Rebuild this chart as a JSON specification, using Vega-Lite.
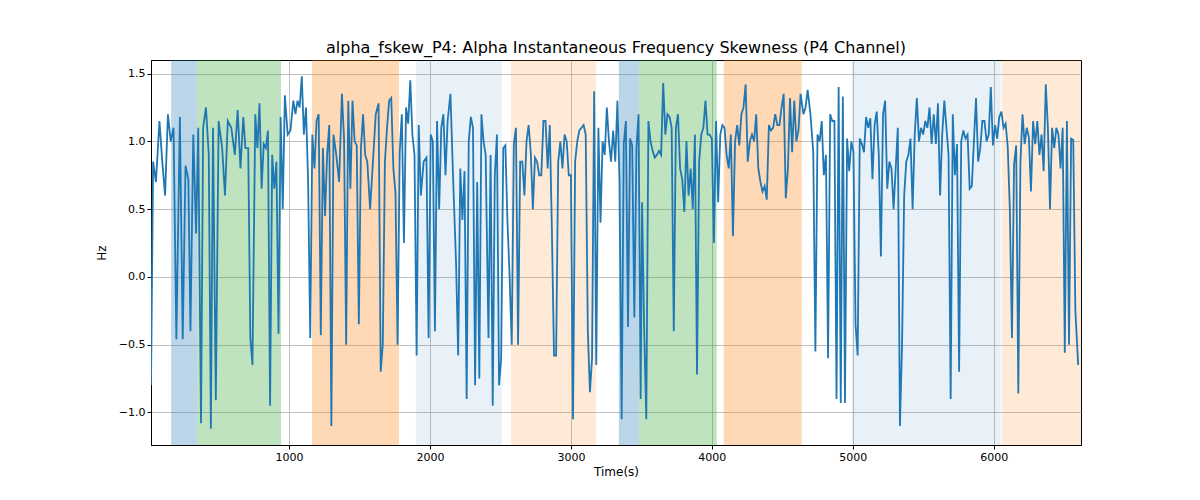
{
  "$schema": "https://vega.github.io/schema/vega-lite/v6.json",
  "width": 930,
  "height": 385,
  "padding": {"left": 95, "top": 40, "right": 10, "bottom": 10},
  "title": {"text": "alpha_fskew_P4: Alpha Instantaneous Frequency Skewness (P4 Channel)", "fontSize": 16, "font": "DejaVu Sans", "fontWeight": "normal"},
  "datasets": {
    "bands": [
      {"s": 163, "e": 348, "c": "b", "o": 0.3},
      {"s": 348, "e": 943, "c": "g", "o": 0.3},
      {"s": 1163, "e": 1780, "c": "o", "o": 0.3},
      {"s": 1900, "e": 2510, "c": "b", "o": 0.1},
      {"s": 2574, "e": 3177, "c": "o", "o": 0.16},
      {"s": 3340, "e": 3482, "c": "b", "o": 0.3},
      {"s": 3482, "e": 4035, "c": "g", "o": 0.3},
      {"s": 4085, "e": 4638, "c": "o", "o": 0.3},
      {"s": 4993, "e": 6050, "c": "b", "o": 0.1},
      {"s": 6057, "e": 6620, "c": "o", "o": 0.16}
    ],
    "series": [
      {"t": 20, "v": -0.8}, {"t": 35, "v": 0.85}, {"t": 55, "v": 0.7}, {"t": 80, "v": 1.15}, {"t": 100, "v": 0.85}, {"t": 120, "v": 0.6},
      {"t": 140, "v": 1.2}, {"t": 160, "v": 1.0}, {"t": 180, "v": 1.1}, {"t": 200, "v": -0.46}, {"t": 225, "v": 1.18}, {"t": 245, "v": -0.46},
      {"t": 265, "v": 0.82}, {"t": 285, "v": 0.72}, {"t": 300, "v": -0.4}, {"t": 320, "v": 1.05}, {"t": 340, "v": 0.32}, {"t": 355, "v": 1.1},
      {"t": 375, "v": -1.08}, {"t": 390, "v": 1.1}, {"t": 410, "v": 1.25}, {"t": 430, "v": 0.9}, {"t": 445, "v": -1.12}, {"t": 460, "v": 1.1},
      {"t": 480, "v": -0.91}, {"t": 500, "v": 1.15}, {"t": 525, "v": 0.95}, {"t": 545, "v": 0.6}, {"t": 565, "v": 1.15}, {"t": 590, "v": 1.1},
      {"t": 615, "v": 0.9}, {"t": 635, "v": 1.23}, {"t": 655, "v": 0.8}, {"t": 675, "v": 1.18}, {"t": 690, "v": 0.95}, {"t": 710, "v": 0.95},
      {"t": 725, "v": -0.45}, {"t": 740, "v": -0.65}, {"t": 760, "v": 1.2}, {"t": 775, "v": 0.95}, {"t": 790, "v": 1.28}, {"t": 805, "v": 0.65},
      {"t": 820, "v": 0.98}, {"t": 835, "v": 0.95}, {"t": 850, "v": 1.08}, {"t": 865, "v": -0.95}, {"t": 880, "v": 0.9}, {"t": 895, "v": 0.65},
      {"t": 910, "v": 0.85}, {"t": 925, "v": -0.42}, {"t": 940, "v": 1.18}, {"t": 955, "v": 0.5}, {"t": 970, "v": 1.34}, {"t": 990, "v": 1.05},
      {"t": 1010, "v": 1.08}, {"t": 1030, "v": 1.3}, {"t": 1045, "v": 1.2}, {"t": 1060, "v": 1.3}, {"t": 1075, "v": 1.25}, {"t": 1090, "v": 1.48},
      {"t": 1105, "v": 1.05}, {"t": 1120, "v": 1.25}, {"t": 1135, "v": 0.7}, {"t": 1150, "v": -0.45}, {"t": 1165, "v": 1.05}, {"t": 1180, "v": 0.8},
      {"t": 1195, "v": 1.15}, {"t": 1210, "v": 1.2}, {"t": 1225, "v": -0.43}, {"t": 1240, "v": 0.95}, {"t": 1255, "v": 0.45}, {"t": 1270, "v": 0.9},
      {"t": 1285, "v": 1.12}, {"t": 1300, "v": -1.1}, {"t": 1315, "v": 1.05}, {"t": 1335, "v": 0.9}, {"t": 1355, "v": 0.7}, {"t": 1375, "v": 1.35},
      {"t": 1390, "v": 1.02}, {"t": 1405, "v": -0.5}, {"t": 1420, "v": 1.3}, {"t": 1435, "v": 0.65}, {"t": 1450, "v": 1.3}, {"t": 1465, "v": 1.0},
      {"t": 1480, "v": 0.97}, {"t": 1495, "v": -0.35}, {"t": 1510, "v": 0.95}, {"t": 1525, "v": 1.2}, {"t": 1540, "v": 0.9}, {"t": 1555, "v": 0.85},
      {"t": 1575, "v": 0.5}, {"t": 1595, "v": 0.85}, {"t": 1615, "v": 1.2}, {"t": 1635, "v": 1.28}, {"t": 1650, "v": -0.7}, {"t": 1665, "v": -0.5},
      {"t": 1680, "v": 0.85}, {"t": 1695, "v": 1.1}, {"t": 1710, "v": 1.3}, {"t": 1725, "v": 1.32}, {"t": 1740, "v": 0.8}, {"t": 1755, "v": 0.62},
      {"t": 1770, "v": -0.5}, {"t": 1785, "v": 0.92}, {"t": 1800, "v": 1.2}, {"t": 1815, "v": 0.25}, {"t": 1830, "v": 1.25}, {"t": 1845, "v": 1.13},
      {"t": 1860, "v": 1.45}, {"t": 1875, "v": 1.05}, {"t": 1890, "v": 0.9}, {"t": 1905, "v": -0.58}, {"t": 1920, "v": 1.12}, {"t": 1935, "v": 0.6},
      {"t": 1955, "v": 0.85}, {"t": 1975, "v": 0.88}, {"t": 1990, "v": -0.45}, {"t": 2005, "v": 1.05}, {"t": 2020, "v": 1.0}, {"t": 2035, "v": -0.4},
      {"t": 2050, "v": 1.15}, {"t": 2065, "v": 0.5}, {"t": 2080, "v": 1.1}, {"t": 2095, "v": 1.2}, {"t": 2110, "v": 0.75}, {"t": 2125, "v": 1.15},
      {"t": 2145, "v": 1.35}, {"t": 2165, "v": 0.7}, {"t": 2185, "v": 0.1}, {"t": 2200, "v": -0.58}, {"t": 2215, "v": 0.8}, {"t": 2230, "v": 0.42},
      {"t": 2245, "v": 0.78}, {"t": 2260, "v": -0.9}, {"t": 2275, "v": 1.0}, {"t": 2290, "v": 1.18}, {"t": 2305, "v": 1.1}, {"t": 2320, "v": -0.8},
      {"t": 2335, "v": 0.7}, {"t": 2350, "v": -0.75}, {"t": 2365, "v": 1.2}, {"t": 2380, "v": 1.0}, {"t": 2395, "v": 0.9}, {"t": 2415, "v": -0.45},
      {"t": 2430, "v": 0.9}, {"t": 2445, "v": -0.95}, {"t": 2460, "v": 0.75}, {"t": 2475, "v": 1.05}, {"t": 2490, "v": -0.8}, {"t": 2505, "v": -0.6},
      {"t": 2520, "v": 0.95}, {"t": 2535, "v": 0.97}, {"t": 2550, "v": 0.4}, {"t": 2565, "v": 0.0}, {"t": 2580, "v": -0.5}, {"t": 2595, "v": 0.98},
      {"t": 2610, "v": 1.1}, {"t": 2625, "v": -0.5}, {"t": 2640, "v": 0.85}, {"t": 2655, "v": 0.85}, {"t": 2670, "v": 0.6}, {"t": 2685, "v": 1.0},
      {"t": 2700, "v": 1.12}, {"t": 2715, "v": 0.92}, {"t": 2730, "v": 0.5}, {"t": 2745, "v": 0.88}, {"t": 2760, "v": 0.85}, {"t": 2775, "v": 0.75},
      {"t": 2790, "v": 0.75}, {"t": 2805, "v": 1.15}, {"t": 2820, "v": 1.15}, {"t": 2835, "v": 0.8}, {"t": 2850, "v": 1.12}, {"t": 2865, "v": 0.35},
      {"t": 2880, "v": -0.58}, {"t": 2895, "v": -0.58}, {"t": 2910, "v": 0.85}, {"t": 2925, "v": 1.0}, {"t": 2940, "v": 0.8}, {"t": 2955, "v": 1.05},
      {"t": 2970, "v": 1.0}, {"t": 2985, "v": 0.75}, {"t": 3000, "v": 0.75}, {"t": 3015, "v": -1.05}, {"t": 3030, "v": 0.85}, {"t": 3045, "v": 1.0},
      {"t": 3060, "v": 1.08}, {"t": 3075, "v": 1.1}, {"t": 3090, "v": 1.12}, {"t": 3105, "v": 1.05}, {"t": 3120, "v": -0.4}, {"t": 3135, "v": -0.85},
      {"t": 3150, "v": -0.6}, {"t": 3165, "v": 1.37}, {"t": 3180, "v": -0.65}, {"t": 3195, "v": 1.1}, {"t": 3210, "v": 0.4}, {"t": 3225, "v": 1.0},
      {"t": 3240, "v": 0.9}, {"t": 3255, "v": 1.25}, {"t": 3270, "v": 1.0}, {"t": 3285, "v": 0.85}, {"t": 3300, "v": 1.08}, {"t": 3315, "v": 0.85},
      {"t": 3330, "v": 1.3}, {"t": 3345, "v": 0.7}, {"t": 3360, "v": -1.05}, {"t": 3375, "v": 0.98}, {"t": 3390, "v": 1.15}, {"t": 3405, "v": -0.37},
      {"t": 3420, "v": 1.02}, {"t": 3435, "v": 0.97}, {"t": 3450, "v": -0.3}, {"t": 3465, "v": 0.95}, {"t": 3480, "v": 1.2}, {"t": 3495, "v": -0.9},
      {"t": 3505, "v": 0.55}, {"t": 3520, "v": -0.4}, {"t": 3535, "v": -1.05}, {"t": 3550, "v": 1.15}, {"t": 3565, "v": 1.0}, {"t": 3580, "v": 0.93},
      {"t": 3595, "v": 0.88}, {"t": 3610, "v": 0.9}, {"t": 3625, "v": 0.93}, {"t": 3640, "v": 0.9}, {"t": 3655, "v": 1.43}, {"t": 3670, "v": 1.05},
      {"t": 3685, "v": 1.2}, {"t": 3700, "v": 1.18}, {"t": 3715, "v": 1.1}, {"t": 3730, "v": -0.4}, {"t": 3745, "v": 1.1}, {"t": 3760, "v": 1.2},
      {"t": 3775, "v": 0.8}, {"t": 3790, "v": 0.72}, {"t": 3805, "v": 0.48}, {"t": 3820, "v": 1.0}, {"t": 3835, "v": 0.6}, {"t": 3850, "v": 0.8},
      {"t": 3865, "v": 0.5}, {"t": 3880, "v": 1.05}, {"t": 3895, "v": -0.72}, {"t": 3910, "v": 0.85}, {"t": 3925, "v": 1.05}, {"t": 3940, "v": 1.1},
      {"t": 3955, "v": 1.3}, {"t": 3970, "v": 1.05}, {"t": 3985, "v": 1.05}, {"t": 4000, "v": 1.02}, {"t": 4015, "v": 0.25}, {"t": 4030, "v": 1.15},
      {"t": 4045, "v": 0.55}, {"t": 4060, "v": 1.05}, {"t": 4075, "v": 1.12}, {"t": 4090, "v": 1.1}, {"t": 4105, "v": 0.9}, {"t": 4120, "v": 0.8},
      {"t": 4135, "v": 1.05}, {"t": 4150, "v": 0.3}, {"t": 4165, "v": 1.0}, {"t": 4180, "v": 1.12}, {"t": 4195, "v": 0.97}, {"t": 4210, "v": 1.2},
      {"t": 4225, "v": 1.25}, {"t": 4240, "v": 1.42}, {"t": 4255, "v": 0.85}, {"t": 4270, "v": 1.0}, {"t": 4285, "v": 1.05}, {"t": 4300, "v": 1.0},
      {"t": 4315, "v": 1.2}, {"t": 4330, "v": 0.8}, {"t": 4345, "v": 0.7}, {"t": 4360, "v": 0.63}, {"t": 4375, "v": 0.67}, {"t": 4390, "v": 0.57},
      {"t": 4405, "v": 1.12}, {"t": 4420, "v": 1.08}, {"t": 4435, "v": 1.1}, {"t": 4450, "v": 1.2}, {"t": 4465, "v": 1.12}, {"t": 4480, "v": 1.12},
      {"t": 4495, "v": 1.25}, {"t": 4510, "v": 1.35}, {"t": 4525, "v": 0.58}, {"t": 4540, "v": 0.8}, {"t": 4555, "v": 1.32}, {"t": 4570, "v": 0.92},
      {"t": 4585, "v": 1.3}, {"t": 4600, "v": 1.0}, {"t": 4615, "v": 1.08}, {"t": 4630, "v": 1.35}, {"t": 4650, "v": 1.2}, {"t": 4665, "v": 1.25},
      {"t": 4680, "v": 1.38}, {"t": 4700, "v": 1.2}, {"t": 4720, "v": 0.92}, {"t": 4735, "v": -0.55}, {"t": 4750, "v": 1.05}, {"t": 4765, "v": 1.0},
      {"t": 4780, "v": 1.15}, {"t": 4795, "v": 0.75}, {"t": 4810, "v": 0.9}, {"t": 4825, "v": -0.6}, {"t": 4840, "v": 1.2}, {"t": 4855, "v": 1.15},
      {"t": 4870, "v": 1.15}, {"t": 4885, "v": -0.9}, {"t": 4900, "v": 1.4}, {"t": 4915, "v": -0.93}, {"t": 4930, "v": 1.33}, {"t": 4945, "v": -0.93},
      {"t": 4960, "v": 1.02}, {"t": 4975, "v": 0.78}, {"t": 4990, "v": 1.0}, {"t": 5005, "v": 0.92}, {"t": 5020, "v": -0.35}, {"t": 5035, "v": -0.58},
      {"t": 5050, "v": 1.02}, {"t": 5065, "v": 0.98}, {"t": 5080, "v": 0.92}, {"t": 5095, "v": 1.18}, {"t": 5110, "v": 1.1}, {"t": 5125, "v": 1.17},
      {"t": 5140, "v": 0.72}, {"t": 5155, "v": 1.12}, {"t": 5170, "v": 1.22}, {"t": 5185, "v": 0.9}, {"t": 5200, "v": 0.15}, {"t": 5215, "v": 1.2},
      {"t": 5230, "v": 1.3}, {"t": 5245, "v": 0.65}, {"t": 5260, "v": 0.85}, {"t": 5275, "v": 0.8}, {"t": 5290, "v": 0.5}, {"t": 5305, "v": 0.8},
      {"t": 5320, "v": 1.1}, {"t": 5335, "v": -1.1}, {"t": 5350, "v": -0.5}, {"t": 5365, "v": 0.6}, {"t": 5380, "v": 0.85}, {"t": 5395, "v": 0.9},
      {"t": 5410, "v": 1.02}, {"t": 5425, "v": 0.5}, {"t": 5440, "v": 1.05}, {"t": 5455, "v": 1.32}, {"t": 5470, "v": 1.0}, {"t": 5485, "v": 1.1},
      {"t": 5500, "v": 1.05}, {"t": 5515, "v": 1.15}, {"t": 5530, "v": 1.1}, {"t": 5545, "v": 1.25}, {"t": 5560, "v": 0.98}, {"t": 5575, "v": 1.2},
      {"t": 5590, "v": 0.98}, {"t": 5605, "v": 1.28}, {"t": 5620, "v": 0.6}, {"t": 5635, "v": 1.05}, {"t": 5650, "v": 1.3}, {"t": 5665, "v": 1.1},
      {"t": 5680, "v": 0.9}, {"t": 5695, "v": -0.9}, {"t": 5710, "v": 1.2}, {"t": 5725, "v": 0.75}, {"t": 5740, "v": 0.98}, {"t": 5755, "v": -0.7},
      {"t": 5770, "v": 1.0}, {"t": 5785, "v": 1.08}, {"t": 5800, "v": 1.02}, {"t": 5815, "v": 1.05}, {"t": 5830, "v": 0.65}, {"t": 5845, "v": 0.67},
      {"t": 5860, "v": 1.0}, {"t": 5875, "v": 1.32}, {"t": 5890, "v": 0.85}, {"t": 5905, "v": 0.95}, {"t": 5920, "v": 1.15}, {"t": 5935, "v": 1.15},
      {"t": 5950, "v": 1.0}, {"t": 5965, "v": 1.05}, {"t": 5980, "v": 1.4}, {"t": 5995, "v": 0.97}, {"t": 6010, "v": 1.12}, {"t": 6025, "v": 1.02},
      {"t": 6040, "v": 1.18}, {"t": 6055, "v": 1.22}, {"t": 6070, "v": 1.1}, {"t": 6085, "v": 1.13}, {"t": 6100, "v": 0.96}, {"t": 6115, "v": 0.5},
      {"t": 6130, "v": -0.45}, {"t": 6145, "v": 0.83}, {"t": 6160, "v": 0.97}, {"t": 6175, "v": -0.86}, {"t": 6190, "v": 0.84}, {"t": 6205, "v": 1.2},
      {"t": 6220, "v": 0.98}, {"t": 6235, "v": 1.1}, {"t": 6250, "v": 1.03}, {"t": 6265, "v": 0.63}, {"t": 6280, "v": 1.15}, {"t": 6295, "v": 0.98},
      {"t": 6310, "v": 1.15}, {"t": 6325, "v": 0.9}, {"t": 6340, "v": 1.05}, {"t": 6355, "v": 0.78}, {"t": 6370, "v": 1.42}, {"t": 6385, "v": 1.1},
      {"t": 6400, "v": 0.5}, {"t": 6415, "v": 1.1}, {"t": 6430, "v": 0.95}, {"t": 6445, "v": 1.1}, {"t": 6460, "v": 1.05}, {"t": 6475, "v": 0.8},
      {"t": 6490, "v": 1.1}, {"t": 6505, "v": -0.56}, {"t": 6520, "v": 1.15}, {"t": 6535, "v": -0.5}, {"t": 6550, "v": 1.02}, {"t": 6565, "v": 1.01},
      {"t": 6580, "v": -0.25}, {"t": 6600, "v": -0.65}
    ]
  },
  "layer": [
    {
      "data": {"name": "bands"},
      "mark": {"type": "rect"},
      "encoding": {
        "x": {"field": "s", "type": "quantitative"},
        "x2": {"field": "e"},
        "color": {"field": "c", "type": "nominal", "legend": null, "scale": {"domain": ["b", "g", "o"], "range": ["#1f77b4", "#2ca02c", "#ff7f0e"]}},
        "opacity": {"field": "o", "type": "quantitative", "scale": null}
      }
    },
    {
      "data": {"name": "series"},
      "mark": {"type": "line", "color": "#1f77b4", "strokeWidth": 1.8, "clip": true},
      "encoding": {
        "x": {"field": "t", "type": "quantitative", "title": "Time(s)", "scale": {"domain": [20, 6620], "nice": false, "zero": false},
          "axis": {"values": [1000, 2000, 3000, 4000, 5000, 6000], "format": "d"}},
        "y": {"field": "v", "type": "quantitative", "title": "Hz", "scale": {"domain": [-1.24, 1.6], "nice": false},
          "axis": {"values": [-1.0, -0.5, 0.0, 0.5, 1.0, 1.5], "format": ".1f"}}
      }
    }
  ],
  "config": {
    "font": "DejaVu Sans",
    "view": {"stroke": "black", "strokeWidth": 1},
    "axis": {"grid": true, "gridColor": "#b0b0b0", "gridOpacity": 1, "gridWidth": 0.8, "domainColor": "black", "tickColor": "black", "labelColor": "black", "labelFontSize": 11, "titleFontSize": 12, "titleFontWeight": "normal", "tickSize": 4, "labelFlush": false},
    "axisY": {"titlePadding": 10}
  }
}
